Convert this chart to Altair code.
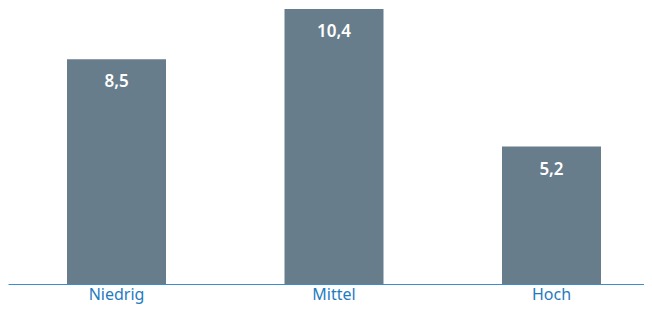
import altair as alt
import pandas as pd

categories = ["Niedrig", "Mittel", "Hoch"]
values = [8.5, 10.4, 5.2]
labels = ["8,5", "10,4", "5,2"]

df = pd.DataFrame({"cat": categories, "val": values, "lab": labels})

FONT = "Source Sans Pro, Noto Sans, sans-serif"

x = alt.X("cat:N", sort=categories, title=None,
          scale=alt.Scale(range=[0, 652], paddingInner=0.5448, paddingOuter=0.2713))
y = alt.Y("val:Q", title=None,
          scale=alt.Scale(domain=[0, 10.4], nice=False, zero=True), axis=None)

bars = alt.Chart(df).mark_bar(color="#687d8c").encode(x=x, y=y)
text = alt.Chart(df).mark_text(color="white", fontSize=17, fontWeight=600,
                               font=FONT, baseline="middle", dy=23).encode(
    x=alt.X("cat:N", sort=categories, title=None), y="val:Q", text="lab:N")

chart = (bars + text).properties(
    width=636, height=275,
    autosize=alt.AutoSizeParams(type="none"),
    padding={"left": 0, "top": 1, "right": 0, "bottom": 22},
).configure_view(stroke=None).configure_axisX(
    labelAngle=0, labelColor="#1f7bc1", labelFontSize=16, labelFont=FONT,
    labelPadding=2, ticks=False, domainColor="#3d8ccc", domainWidth=1.2,
    grid=False, domainOpacity=1)

chart.save("out.html", embed_options={"renderer": "svg", "actions": False})
